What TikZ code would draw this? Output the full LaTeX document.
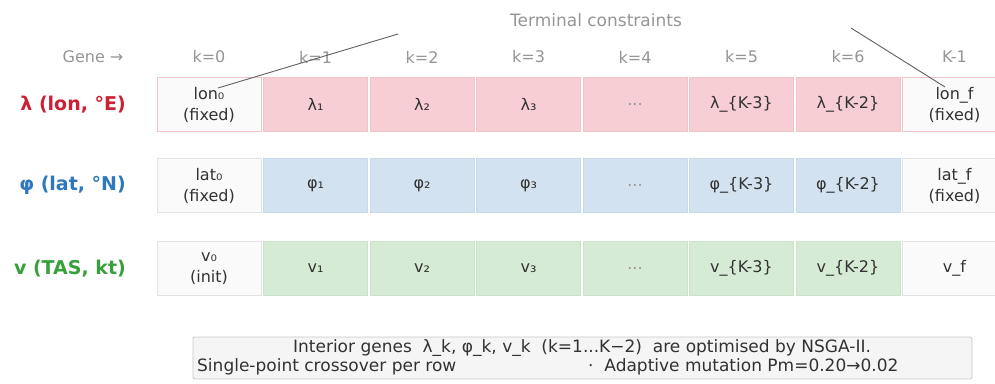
\documentclass[tikz,border=0pt]{standalone}
\usepackage{fontspec}
\setmainfont{DejaVu Sans}
\usetikzlibrary{calc}
\definecolor{lamfill}{RGB}{246,206,211}
\definecolor{lamedge}{RGB}{241,196,202}
\definecolor{phifill}{RGB}{210,226,240}
\definecolor{phiedge}{RGB}{200,217,234}
\definecolor{vfill}{RGB}{214,235,212}
\definecolor{vedge}{RGB}{203,228,201}
\definecolor{fixfill}{RGB}{250,250,250}
\definecolor{fixedge}{RGB}{226,226,226}
\definecolor{lamtext}{RGB}{206,32,52}
\definecolor{phitext}{RGB}{45,120,190}
\definecolor{vtext}{RGB}{55,160,60}
\definecolor{hdrgray}{RGB}{150,150,150}
\definecolor{celltext}{RGB}{50,50,50}
\definecolor{dotsgray}{RGB}{150,150,150}
\definecolor{linegray}{RGB}{95,95,95}
\definecolor{notefill}{RGB}{245,245,245}
\definecolor{noteedge}{RGB}{200,200,200}
\begin{document}
\begin{tikzpicture}[x=1pt,y=-1pt,
  cell/.style={minimum width=104pt,minimum height=54pt,inner sep=0pt,align=center,
    font=\fontsize{16}{21}\selectfont,text=celltext,line width=0.8pt},
  lamcell/.style={cell,fill=lamfill,draw=lamedge},
  phicell/.style={cell,fill=phifill,draw=phiedge},
  vcell/.style={cell,fill=vfill,draw=vedge},
  fixcell/.style={cell,fill=fixfill,draw=fixedge},
  lamfix/.style={fixcell,draw=lamedge},
  dotsl/.style={text=dotsgray},
  rowlabel/.style={anchor=east,inner sep=0pt,font=\fontsize{19}{21}\selectfont\bfseries},
  hdr/.style={font=\fontsize{16}{18}\selectfont,text=hdrgray},
  note/.style={font=\fontsize{17}{19}\selectfont,text=celltext,inner sep=0pt},
  callout/.style={draw=linegray,line width=0.9pt}
]
\path[use as bounding box] (0,0) rectangle (995,383);
\clip (0,0) rectangle (995,383);
\fill[white] (0,0) rectangle (995,383);

% header
\node[hdr,font=\fontsize{17}{18}\selectfont] (term) at (596,20) {Terminal constraints};
\node[hdr] (gene) at (93,57) {Gene →};
\node[hdr] (h0) at (209,57) {k=0};
\node[hdr] (h1) at (315.5,57) {k=1};
\node[hdr] (h2) at (422,57) {k=2};
\node[hdr] (h3) at (528.5,57) {k=3};
\node[hdr] (h4) at (635,57) {k=4};
\node[hdr] (h5) at (741.5,57) {k=5};
\node[hdr] (h6) at (848,57) {k=6};
\node[hdr] (h7) at (954.5,57) {K-1};

% row labels
\node[rowlabel,text=lamtext] (rl) at (126,104.5) {λ (lon, °E)};
\node[rowlabel,text=phitext] (rp) at (126,185.5) {φ (lat, °N)};
\node[rowlabel,text=vtext] (rv) at (126,268.5) {v (TAS, kt)};

% lambda row
\node[lamfix] (l0) at (209,104.5) {lon₀\\(fixed)};
\node[lamcell] (l1) at (315.5,104.5) {λ₁};
\node[lamcell] (l2) at (422,104.5) {λ₂};
\node[lamcell] (l3) at (528.5,104.5) {λ₃};
\node[lamcell,dotsl] (l4) at (635,104.5) {...};
\node[lamcell] (l5) at (741.5,104.5) {λ\_\{K-3\}};
\node[lamcell] (l6) at (848,104.5) {λ\_\{K-2\}};
\node[lamfix] (l7) at (954.5,104.5) {lon\_f\\(fixed)};

% phi row
\node[fixcell] (p0) at (209,185.5) {lat₀\\(fixed)};
\node[phicell] (p1) at (315.5,185.5) {φ₁};
\node[phicell] (p2) at (422,185.5) {φ₂};
\node[phicell] (p3) at (528.5,185.5) {φ₃};
\node[phicell,dotsl] (p4) at (635,185.5) {...};
\node[phicell] (p5) at (741.5,185.5) {φ\_\{K-3\}};
\node[phicell] (p6) at (848,185.5) {φ\_\{K-2\}};
\node[fixcell] (p7) at (954.5,185.5) {lat\_f\\(fixed)};

% v row
\node[fixcell] (v0) at (209,268.5) {v₀\\(init)};
\node[vcell] (v1) at (315.5,268.5) {v₁};
\node[vcell] (v2) at (422,268.5) {v₂};
\node[vcell] (v3) at (528.5,268.5) {v₃};
\node[vcell,dotsl] (v4) at (635,268.5) {...};
\node[vcell] (v5) at (741.5,268.5) {v\_\{K-3\}};
\node[vcell] (v6) at (848,268.5) {v\_\{K-2\}};
\node[fixcell] (v7) at (954.5,268.5) {v\_f};

% terminal constraint callouts
\coordinate (ta) at (398,34);
\coordinate (tb) at (851,28);
\coordinate (ea) at ($(l0.center)+(9,-16.5)$);
\coordinate (eb) at ($(l7.center)+(-9.5,-17.5)$);
\draw[callout] (ta) -- (ea);
\draw[callout] (tb) -- (eb);

% note box
\node[draw=noteedge,fill=notefill,rounded corners=2pt,line width=0.8pt,
  minimum width=779pt,minimum height=42pt,inner sep=0pt] (box) at (582.5,358) {};
\node[note] (n1) at (582,348) {Interior genes \ λ\_k, φ\_k, v\_k \ (k=1...K−2) \ are optimised by NSGA-II.};
\node[note,anchor=west] (n2) at (197,367) {Single-point crossover per row};
\node[note,anchor=west] (n3) at (588,367) {·\ \ Adaptive mutation Pm=0.20→0.02};
\end{tikzpicture}
\end{document}
